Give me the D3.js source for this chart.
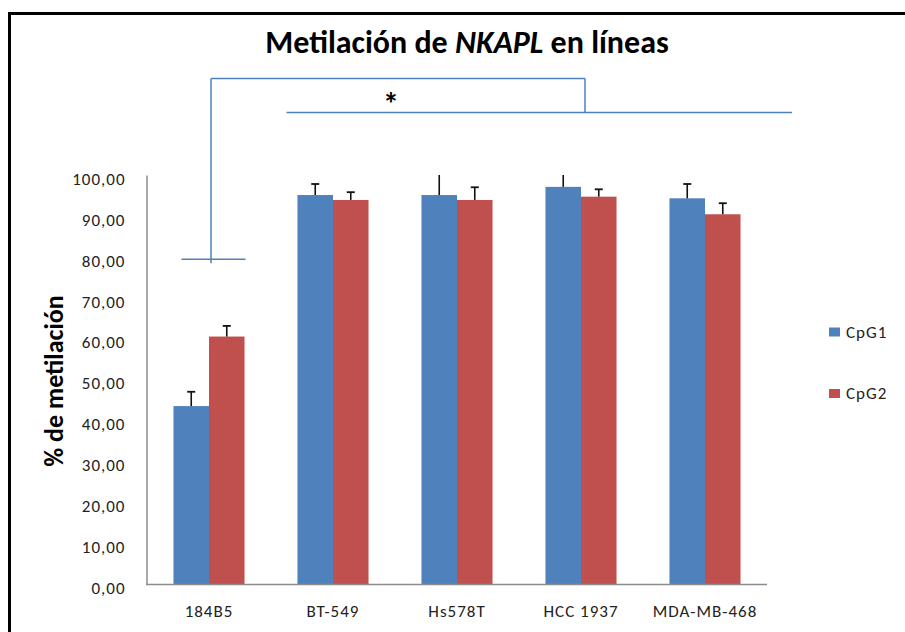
<!DOCTYPE html>
<html>
<head>
<meta charset="utf-8">
<script src="https://cdn.jsdelivr.net/npm/d3@7"></script>
<style>
  html, body { margin: 0; padding: 0; background: #fff; }
  svg { display: block; font-family: Carlito, Lato, "Open Sans", sans-serif; }
</style>
</head>
<body>
<svg id="chart" width="905" height="632"></svg>
<script>
// ---- data ----
const categories = ["184B5", "BT-549", "Hs578T", "HCC 1937", "MDA-MB-468"];
const seriesNames = ["CpG1", "CpG2"];
const cpg1 = [43.5, 95.1, 95.1, 97.1, 94.3];
const cpg2 = [60.5, 93.9, 93.9, 94.7, 90.4];
const err1 = [3.5, 2.7, 5.1, 3.5, 3.5];
const err2 = [2.6, 1.9, 3.1, 1.8, 2.7];
const yTicks = [0, 10, 20, 30, 40, 50, 60, 70, 80, 90, 100];
const colors = ["#4F81BD", "#C0504D"];

const svg = d3.select("#chart");

// frame
svg.append("rect").attr("x", 9.5).attr("y", 13.5).attr("width", 1000).attr("height", 1000)
  .attr("fill", "none").attr("stroke", "#000").attr("stroke-width", 3);

// scales
const x = d3.scaleBand().domain(categories).range([147, 767]).paddingInner(0.427).paddingOuter(0.2135);
const x1 = d3.scaleBand().domain(seriesNames).range([0, x.bandwidth()]);
const y = d3.scaleLinear().domain([0, 100]).range([584, 175]);

const fmt = v => d3.format(".2f")(v).replace(".", ",");
const smallFont = "Carlito, Lato, sans-serif";

// y axis
const yAxis = svg.append("g").attr("transform", "translate(146.5,0)")
  .call(d3.axisLeft(y).tickValues(yTicks).tickFormat(fmt).tickSize(0).tickPadding(21));
yAxis.select(".domain").attr("stroke", "#8c8c8c").attr("stroke-width", 1.5);
yAxis.selectAll("text").attr("font-size", 17).attr("fill", "#222").attr("dy", "0.55em")
  .attr("letter-spacing", "1px").attr("font-family", smallFont);

// bars
const rows = categories.map((c, i) => ({
  cat: c,
  vals: [
    { s: seriesNames[0], v: cpg1[i], e: err1[i], col: colors[0] },
    { s: seriesNames[1], v: cpg2[i], e: err2[i], col: colors[1] }
  ]
}));

const g = svg.selectAll(".grp").data(rows).enter().append("g")
  .attr("transform", d => `translate(${x(d.cat)},0)`);

g.selectAll("rect").data(d => d.vals).enter().append("rect")
  .attr("x", d => x1(d.s))
  .attr("y", d => y(d.v))
  .attr("width", x1.bandwidth())
  .attr("height", d => y(0) - y(d.v))
  .attr("fill", d => d.col);

// error bars (clipped at axis max like the original)
const eb = g.selectAll(".err").data(d => d.vals).enter().append("g");
eb.append("line")
  .attr("x1", d => x1(d.s) + x1.bandwidth() / 2)
  .attr("x2", d => x1(d.s) + x1.bandwidth() / 2)
  .attr("y1", d => y(d.v))
  .attr("y2", d => y(Math.min(100, d.v + d.e)))
  .attr("stroke", "#111").attr("stroke-width", 1.6);
eb.filter(d => d.v + d.e <= 100).append("line")
  .attr("x1", d => x1(d.s) + x1.bandwidth() / 2 - 4)
  .attr("x2", d => x1(d.s) + x1.bandwidth() / 2 + 4)
  .attr("y1", d => y(d.v + d.e))
  .attr("y2", d => y(d.v + d.e))
  .attr("stroke", "#111").attr("stroke-width", 1.8);

// x axis
const xAxis = svg.append("g").attr("transform", "translate(0,584.5)")
  .call(d3.axisBottom(x).tickSize(0).tickPadding(20).tickSizeOuter(0));
xAxis.select(".domain").attr("stroke", "#8c8c8c").attr("stroke-width", 1.5)
  .attr("d", "M146,0H767");
xAxis.selectAll("text").attr("font-size", 17).attr("fill", "#222")
  .attr("letter-spacing", "1px").attr("font-family", smallFont);

// title
const title = svg.append("text").attr("x", 467).attr("y", 53).attr("text-anchor", "middle")
  .attr("font-size", 32).attr("font-weight", "bold").attr("fill", "#000");
title.append("tspan").text("Metilación de ");
title.append("tspan").attr("font-style", "italic").text("NKAPL");
title.append("tspan").text(" en líneas");

// y axis title
svg.append("text").attr("transform", "translate(63,381) rotate(-90)")
  .attr("text-anchor", "middle").attr("font-size", 26).attr("font-weight", "bold")
  .attr("fill", "#000").text("% de metilación");

// significance brackets
const bc = "#4F81BD";
const cx0 = x(categories[0]) + x.bandwidth() / 2 + 2;
const cx3 = x(categories[3]) + x.bandwidth() / 2 + 4;
const ann = svg.append("g").attr("stroke", bc).attr("stroke-width", 1.5).attr("fill", "none");
const yTop = y(123.6), yLow = y(115.3), yShort = y(79.4);
ann.append("line").attr("x1", cx0).attr("x2", cx0).attr("y1", yTop).attr("y2", yShort + 4);
ann.append("line").attr("x1", cx0).attr("x2", cx3).attr("y1", yTop).attr("y2", yTop);
ann.append("line").attr("x1", cx3).attr("x2", cx3).attr("y1", yTop).attr("y2", yLow);
ann.append("line").attr("x1", x(categories[1]) - 11).attr("x2", 792).attr("y1", yLow).attr("y2", yLow);
ann.append("line").attr("x1", x(categories[0]) + 8).attr("x2", x(categories[0]) + x.bandwidth() + 1).attr("y1", yShort).attr("y2", yShort);
svg.append("text").attr("x", 391).attr("y", 115).attr("text-anchor", "middle")
  .attr("font-size", 32).attr("font-weight", "bold").attr("fill", "#000").text("*");

// legend
const leg = svg.append("g").attr("transform", "translate(829,332)");
seriesNames.forEach((s, i) => {
  const r = leg.append("g").attr("transform", `translate(0,${i * 61.5})`);
  r.append("rect").attr("x", 0).attr("y", -4.5).attr("width", 11).attr("height", 9).attr("fill", colors[i]);
  r.append("text").attr("x", 17).attr("y", 0).attr("dy", "0.35em").attr("font-size", 17)
    .attr("letter-spacing", "1px").attr("fill", "#222").text(s);
});
</script>
</body>
</html>
